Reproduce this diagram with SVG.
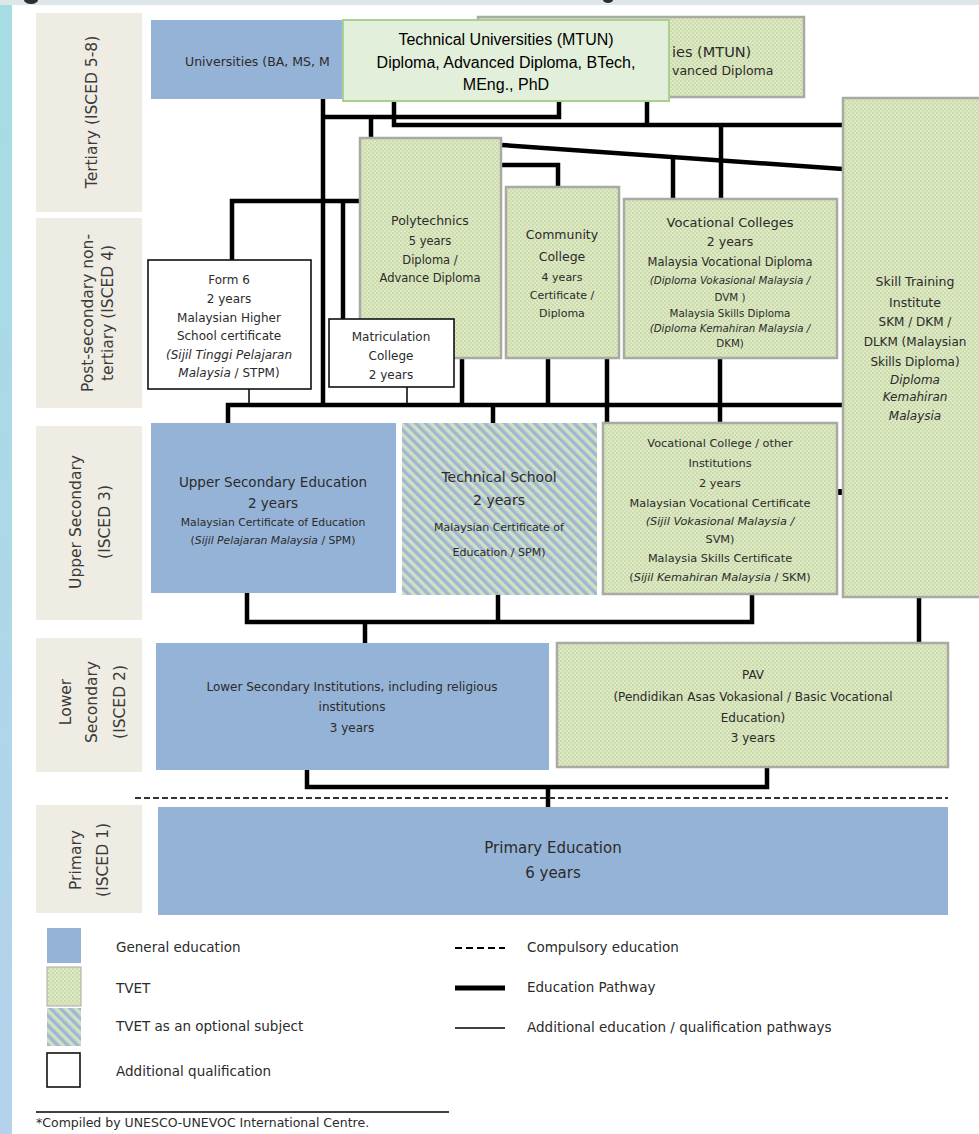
<svg xmlns="http://www.w3.org/2000/svg" width="979" height="1134" viewBox="0 0 979 1134">
<style>
.t{font-family:"DejaVu Sans","Liberation Sans",sans-serif;fill:#2b2b2b;text-anchor:middle}
.l{font-family:"DejaVu Sans","Liberation Sans",sans-serif;fill:#3a3a3a;text-anchor:middle;font-size:15.5px}
.lg{font-family:"DejaVu Sans","Liberation Sans",sans-serif;fill:#2b2b2b;font-size:13.5px}
.it{font-style:italic}
.gen{fill:#95b3d7}
.tvet{fill:url(#dots);stroke:#a9aaa4;stroke-width:2.5}
.add{fill:#ffffff;stroke:#111;stroke-width:1.6}
.lab{fill:#eeece3}
.thick{fill:none;stroke:#000;stroke-width:4.5;stroke-linejoin:miter}
.thin{fill:none;stroke:#000;stroke-width:1.5}
</style>
<defs>
<linearGradient id="side" x1="0" y1="0" x2="0" y2="1">
<stop offset="0" stop-color="#a6dde3"/>
<stop offset="1" stop-color="#b4d2ec"/>
</linearGradient>
<pattern id="dots" width="4" height="4" patternUnits="userSpaceOnUse">
<rect width="4" height="4" fill="#dde8c5"/>
<circle cx="1" cy="1" r="0.9" fill="#c3d59e"/>
<circle cx="3" cy="3" r="0.9" fill="#c9d9a8"/>
</pattern>
<pattern id="stripes" width="7" height="7" patternUnits="userSpaceOnUse" patternTransform="rotate(-45)">
<rect width="7" height="7" fill="#d2dfc4"/>
<rect width="3.5" height="7" fill="#9fb8d2"/>
</pattern>
</defs>

<!-- background -->
<rect x="0" y="0" width="979" height="1134" fill="#ffffff"/>
<rect x="0" y="0" width="12" height="1134" fill="url(#side)"/>
<rect x="0" y="0" width="979" height="5" fill="#dde6e9"/>
<ellipse cx="31" cy="0" rx="7" ry="4" fill="#2a2f33"/>
<ellipse cx="608" cy="0" rx="5" ry="3" fill="#2a2f33"/>

<!-- row labels -->
<g id="row-tertiary">
<rect class="lab" x="36" y="13" width="106" height="199"/>
<text class="l" transform="translate(92,112) rotate(-90)" y="5">Tertiary (ISCED 5-8)</text>
</g>
<g id="row-postsecondary">
<rect class="lab" x="36" y="218" width="106" height="190"/>
<text class="l" transform="translate(88,313) rotate(-90)" y="5">Post-secondary non-</text>
<text class="l" transform="translate(108,313) rotate(-90)" y="5">tertiary (ISCED 4)</text>
</g>
<g id="row-upper">
<rect class="lab" x="36" y="426" width="106" height="194"/>
<text class="l" transform="translate(76,522) rotate(-90)" y="5">Upper Secondary</text>
<text class="l" transform="translate(105,522) rotate(-90)" y="5">(ISCED 3)</text>
</g>
<g id="row-lower">
<rect class="lab" x="36" y="638" width="106" height="134"/>
<text class="l" transform="translate(66,702) rotate(-90)" y="5">Lower</text>
<text class="l" transform="translate(92,702) rotate(-90)" y="5">Secondary</text>
<text class="l" transform="translate(120,702) rotate(-90)" y="5">(ISCED 2)</text>
</g>
<g id="row-primary">
<rect class="lab" x="36" y="805" width="106" height="108"/>
<text class="l" transform="translate(76,860) rotate(-90)" y="5">Primary</text>
<text class="l" transform="translate(103,860) rotate(-90)" y="5">(ISCED 1)</text>
</g>

<!-- connectors -->
<g id="connectors">
<path class="thick" d="M323,99 V407"/>
<path class="thick" d="M323,117 H559 V101"/>
<path class="thick" d="M371,117 V138"/>
<path class="thick" d="M394,101 V125 H843"/>
<path class="thick" d="M647,97 V125"/>
<path class="thick" d="M721,125 V199"/>
<path class="thick" d="M502,145 L843,169"/>
<path class="thick" d="M673,157 V199"/>
<path class="thick" d="M502,165 H558 V187"/>
<path class="thick" d="M232,260 V201 H360"/>
<path class="thick" d="M343,201 V319"/>
<path class="thick" d="M228,423 V405 H843"/>
<path class="thick" d="M462,358 V405"/>
<path class="thick" d="M493,405 V423"/>
<path class="thick" d="M548,358 V405"/>
<path class="thick" d="M607,358 V423"/>
<path class="thick" d="M720,358 V423"/>
<path class="thin" d="M249,389 V405"/>
<path class="thin" d="M407,387 V405"/>
<path class="thick" d="M247,593 V622 H752 V594"/>
<path class="thick" d="M498,595 V622"/>
<path class="thick" d="M365,622 V643"/>
<path class="thick" d="M919,597 V643"/>
<rect x="838" y="489" width="4" height="6" fill="#000"/>
<path class="thick" d="M307,770 V787 H767 V767"/>
<path class="thick" d="M548,787 V807"/>
<path d="M135,798 H948" fill="none" stroke="#333" stroke-width="2" stroke-dasharray="6,3"/>
</g>

<!-- tertiary -->
<g id="universities">
<rect class="gen" x="151" y="20" width="320" height="79"/>
<text class="t" x="185" y="66" font-size="12.5" style="text-anchor:start">Universities (BA, MS, M</text>
</g>
<g id="mtun-tvet">
<rect class="tvet" x="478" y="17" width="326" height="80"/>
<text class="t" x="672" y="57" font-size="14.5" style="text-anchor:start">ies (MTUN)</text>
<text class="t" x="672" y="75" font-size="12.5" style="text-anchor:start">vanced Diploma</text>
</g>
<g id="mtun">
<rect x="343" y="20" width="326" height="81" fill="#e2efda" stroke="#a9d08e" stroke-width="2"/>
<text x="506" y="45" font-family="'Liberation Sans',Arial,sans-serif" font-size="16" fill="#000" text-anchor="middle">Technical Universities (MTUN)</text>
<text x="506" y="68" font-family="'Liberation Sans',Arial,sans-serif" font-size="16" fill="#000" text-anchor="middle">Diploma,  Advanced Diploma, BTech,</text>
<text x="506" y="90" font-family="'Liberation Sans',Arial,sans-serif" font-size="16" fill="#000" text-anchor="middle">MEng., PhD</text>
</g>

<!-- post-secondary -->
<g id="polytechnics">
<rect class="tvet" x="360" y="138" width="141" height="220"/>
<text class="t" x="430" y="225" font-size="12.5">Polytechnics</text>
<text class="t" x="430" y="245" font-size="11.5">5 years</text>
<text class="t" x="430" y="264" font-size="11.5">Diploma /</text>
<text class="t" x="430" y="282" font-size="11.5">Advance Diploma</text>
</g>
<g id="community-college">
<rect class="tvet" x="506" y="187" width="113" height="171"/>
<text class="t" x="562" y="239" font-size="12.5">Community</text>
<text class="t" x="562" y="261" font-size="12.5">College</text>
<text class="t" x="562" y="281" font-size="11">4 years</text>
<text class="t" x="562" y="299" font-size="11">Certificate /</text>
<text class="t" x="562" y="317" font-size="11">Diploma</text>
</g>
<g id="vocational-colleges">
<rect class="tvet" x="624" y="199" width="213" height="159"/>
<text class="t" x="730" y="227" font-size="13">Vocational Colleges</text>
<text class="t" x="730" y="246" font-size="12.5">2 years</text>
<text class="t" x="730" y="266" font-size="11.5">Malaysia Vocational Diploma</text>
<text class="t it" x="730" y="284" font-size="10.3">(Diploma Vokasional Malaysia /</text>
<text class="t" x="730" y="301" font-size="10.3">DVM )</text>
<text class="t" x="730" y="317" font-size="10.3">Malaysia Skills Diploma</text>
<text class="t it" x="730" y="332" font-size="10.3">(Diploma Kemahiran Malaysia /</text>
<text class="t" x="730" y="347" font-size="10.3">DKM)</text>
</g>
<g id="form6">
<rect class="add" x="148" y="260" width="163" height="129"/>
<text class="t" x="229" y="284" font-size="12">Form 6</text>
<text class="t" x="229" y="303" font-size="12">2 years</text>
<text class="t" x="229" y="322" font-size="12">Malaysian Higher</text>
<text class="t" x="229" y="340" font-size="12">School certificate</text>
<text class="t it" x="229" y="359" font-size="12">(Sijil Tinggi Pelajaran</text>
<text class="t" x="229" y="377" font-size="12"><tspan class="it">Malaysia</tspan> / STPM)</text>
</g>
<g id="matriculation">
<rect class="add" x="329" y="319" width="125" height="68"/>
<text class="t" x="391" y="341" font-size="12">Matriculation</text>
<text class="t" x="391" y="360" font-size="12">College</text>
<text class="t" x="391" y="379" font-size="12">2 years</text>
</g>
<g id="skill-training">
<rect class="tvet" x="843" y="98" width="145" height="499"/>
<text class="t" x="915" y="286" font-size="12.5">Skill Training</text>
<text class="t" x="915" y="307" font-size="12.5">Institute</text>
<text class="t" x="915" y="326" font-size="12">SKM / DKM /</text>
<text class="t" x="915" y="346" font-size="12">DLKM (Malaysian</text>
<text class="t" x="915" y="366" font-size="12">Skills Diploma)</text>
<text class="t it" x="915" y="384" font-size="12">Diploma</text>
<text class="t it" x="915" y="401" font-size="12">Kemahiran</text>
<text class="t it" x="915" y="420" font-size="12">Malaysia</text>
</g>

<!-- upper secondary -->
<g id="upper-secondary">
<rect class="gen" x="151" y="423" width="245" height="170"/>
<text class="t" x="273" y="487" font-size="13.5">Upper Secondary Education</text>
<text class="t" x="273" y="508" font-size="13.5">2 years</text>
<text class="t" x="273" y="526" font-size="10.8">Malaysian Certificate of Education</text>
<text class="t" x="273" y="544" font-size="10.8">(<tspan class="it">Sijil Pelajaran Malaysia</tspan> / SPM)</text>
</g>
<g id="technical-school">
<rect x="402" y="423" width="195" height="172" fill="url(#stripes)"/>
<text class="t" x="499" y="482" font-size="14">Technical School</text>
<text class="t" x="499" y="505" font-size="14">2 years</text>
<text class="t" x="499" y="531" font-size="11">Malaysian Certificate of</text>
<text class="t" x="499" y="556" font-size="11">Education / SPM)</text>
</g>
<g id="vocational-other">
<rect class="tvet" x="603" y="423" width="234" height="171"/>
<text class="t" x="720" y="447" font-size="11.3">Vocational College / other</text>
<text class="t" x="720" y="467" font-size="11.3">Institutions</text>
<text class="t" x="720" y="487" font-size="11.3">2 years</text>
<text class="t" x="720" y="507" font-size="11.3">Malaysian Vocational Certificate</text>
<text class="t it" x="720" y="525" font-size="11.3">(Sijil Vokasional Malaysia /</text>
<text class="t" x="720" y="543" font-size="11.3">SVM)</text>
<text class="t" x="720" y="562" font-size="11.3">Malaysia Skills Certificate</text>
<text class="t" x="720" y="581" font-size="11.3">(<tspan class="it">Sijil Kemahiran Malaysia</tspan> / SKM)</text>
</g>

<!-- lower secondary -->
<g id="lower-secondary">
<rect class="gen" x="156" y="643" width="393" height="127"/>
<text class="t" x="352" y="691" font-size="12">Lower Secondary Institutions, including religious</text>
<text class="t" x="352" y="711" font-size="12">institutions</text>
<text class="t" x="352" y="732" font-size="12">3 years</text>
</g>
<g id="pav">
<rect class="tvet" x="557" y="643" width="391" height="124"/>
<text class="t" x="753" y="679" font-size="12">PAV</text>
<text class="t" x="753" y="701" font-size="12">(Pendidikan Asas Vokasional / Basic Vocational</text>
<text class="t" x="753" y="722" font-size="12">Education)</text>
<text class="t" x="753" y="742" font-size="12">3 years</text>
</g>

<!-- primary -->
<g id="primary">
<rect class="gen" x="158" y="807" width="790" height="108"/>
<text class="t" x="553" y="853" font-size="15">Primary Education</text>
<text class="t" x="553" y="878" font-size="15">6 years</text>
</g>

<!-- legend -->
<g id="legend">
<rect class="gen" x="47" y="928" width="34" height="35"/>
<rect x="47" y="967" width="34" height="39" fill="url(#dots)" stroke="#a9aaa4" stroke-width="1"/>
<rect x="47" y="1008" width="34" height="38" fill="url(#stripes)"/>
<rect class="add" x="47" y="1053" width="33" height="34"/>
<text class="lg" x="116" y="952">General education</text>
<text class="lg" x="116" y="993">TVET</text>
<text class="lg" x="116" y="1031">TVET as an optional subject</text>
<text class="lg" x="116" y="1076">Additional qualification</text>
<path d="M455,948 H505" stroke="#000" stroke-width="2" stroke-dasharray="7,4" fill="none"/>
<path d="M455,988 H505" stroke="#000" stroke-width="5" fill="none"/>
<path d="M455,1028 H505" stroke="#000" stroke-width="1.5" fill="none"/>
<text class="lg" x="527" y="952">Compulsory education</text>
<text class="lg" x="527" y="992">Education Pathway</text>
<text class="lg" x="527" y="1032">Additional education / qualification pathways</text>
<path d="M36,1112 H449" stroke="#000" stroke-width="1.5" fill="none"/>
<text class="lg" x="36" y="1127" style="font-size:12.5px">*Compiled by UNESCO-UNEVOC International Centre.</text>
</g>
</svg>
